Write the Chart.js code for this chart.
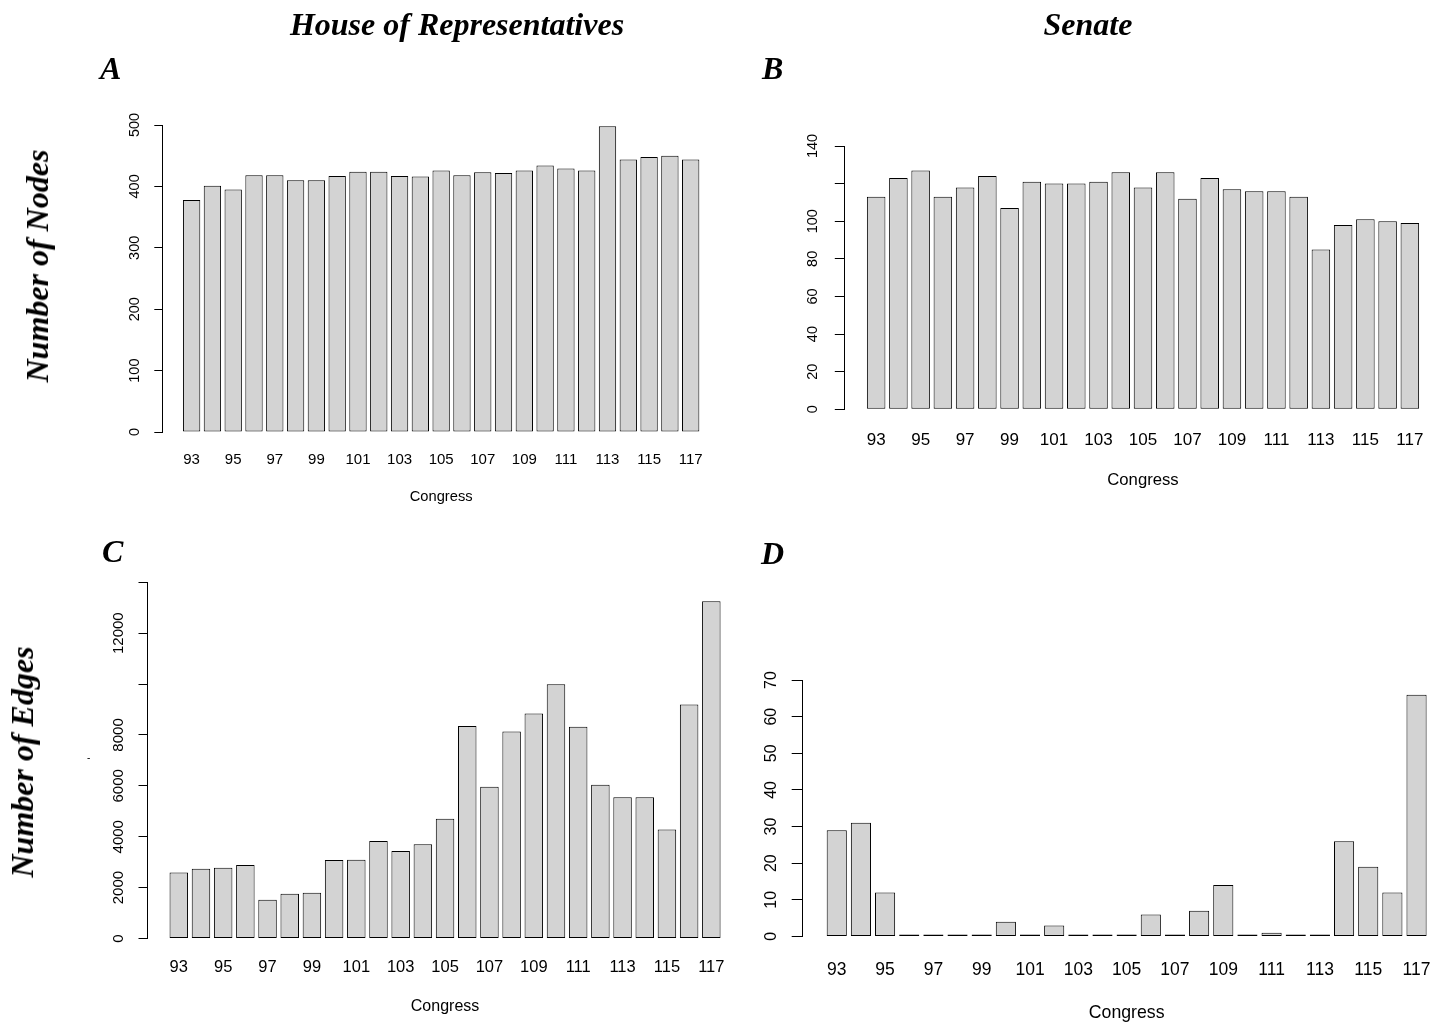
<!DOCTYPE html>
<html>
<head>
<meta charset="utf-8">
<script src="https://cdn.jsdelivr.net/npm/chart.js@4/dist/chart.umd.min.js"></script>
<style>
  html, body { margin: 0; padding: 0; background: #fff; overflow: hidden; width: 1448px; height: 1023px; }
  #fig { position: relative; width: 1448px; height: 1023px; overflow: hidden; background: #fff; }
  #fig canvas { position: absolute; left: 0; top: 0; }
  .hd {
    position: absolute; color: #000; white-space: nowrap;
    font-family: 'Liberation Serif', 'Times New Roman', serif;
    font-weight: bold; font-style: italic; font-size: 32px; line-height: 32px;
  }
  .stray { position: absolute; font: 10px 'Liberation Sans', Arial, sans-serif; line-height: 10px; color: #000; }
</style>
</head>
<body>
<div id="fig">
  <canvas id="panelA" width="1460" height="1023"></canvas>
  <canvas id="panelB" width="1460" height="1023"></canvas>
  <canvas id="panelC" width="1460" height="1023"></canvas>
  <canvas id="panelD" width="1460" height="1023"></canvas>

  <div class="hd" style="left:457px; top:8px; transform:translateX(-50%);">House of Representatives</div>
  <div class="hd" style="left:1088px; top:8px; transform:translateX(-50%);">Senate</div>
  <div class="hd" style="left:100px; top:52px;">A</div>
  <div class="hd" style="left:762px; top:52px;">B</div>
  <div class="hd" style="left:102px; top:535px;">C</div>
  <div class="hd" style="left:761px; top:537px;">D</div>
  <div class="hd" style="left:37px; top:266px; transform:translate(-50%,-50%) rotate(-90deg);">Number of Nodes</div>
  <div class="hd" style="left:22px; top:762px; transform:translate(-50%,-50%) rotate(-90deg);">Number of Edges</div>
  <div class="stray" style="left:87px; top:753px;">-</div>
</div>

<script>
// Congress numbers (93rd through 117th)
const congress = [93, 94, 95, 96, 97, 98, 99, 100, 101, 102, 103, 104, 105,
                  106, 107, 108, 109, 110, 111, 112, 113, 114, 115, 116, 117];
const congressTicks = [93, 95, 97, 99, 101, 103, 105, 107, 109, 111, 113, 115, 117];

// A: House, number of nodes
const houseNodes = [378, 401, 395, 418, 418, 410, 410, 417, 424, 424, 417, 416, 426,
                    418, 423, 422, 426, 434, 429, 426, 498, 444, 448, 450, 444];
// B: Senate, number of nodes
const senateNodes = [113, 123, 127, 113, 118, 124, 107, 121, 120, 120, 121, 126, 118,
                     126, 112, 123, 117, 116, 116, 113, 85, 98, 101, 100, 99];
// C: House, number of edges
const houseEdges = [2590, 2740, 2780, 2890, 1520, 1760, 1800, 3090, 3100, 3830, 3440, 3700, 4710,
                    8350, 5960, 8140, 8840, 9990, 8320, 6040, 5550, 5550, 4280, 9200, 13260];
// D: Senate, number of edges
const senateEdges = [29, 31, 12, 0, 0, 0, 0, 4, 0, 3, 0, 0, 0,
                     6, 0, 7, 14, 0, 1, 0, 0, 26, 19, 12, 66];

// y-axis tick values, and the ones whose labels are left blank
const houseNodeTicks = [0, 100, 200, 300, 400, 500];
const senateNodeTicks = [0, 20, 40, 60, 80, 100, 120, 140];
const houseEdgeTicks = [0, 2000, 4000, 6000, 8000, 10000, 12000, 14000];
const senateEdgeTicks = [0, 10, 20, 30, 40, 50, 60, 70];
const houseNodeBlank = [];
const senateNodeBlank = [120];
const houseEdgeBlank = [10000, 14000];
const senateEdgeBlank = [];

const CANVAS_W = 1460, CANVAS_H = 1023, Y_AXIS_W = 60;
const SANS = "'Liberation Sans', Arial, Helvetica, sans-serif";
// barplot-style x range: 0.2 spacing between unit-width bars plus 4% margins
const X_MIN = 91.59, X_MAX = 118.41;

function drawPanel(id, values, yTicks, blank, g) {
  const points = congress.map((c, i) => ({ x: c, y: values[i] }));
  new Chart(document.getElementById(id), {
    type: 'bar',
    data: {
      datasets: [{
        data: points,
        backgroundColor: '#d3d3d3',
        borderColor: '#000000',
        borderWidth: 1,
        borderSkipped: false,
        minBarLength: 2,
        categoryPercentage: 1,
        barPercentage: 1 / 1.2
      }]
    },
    options: {
      responsive: false,
      animation: false,
      devicePixelRatio: 1,
      events: [],
      layout: {
        padding: {
          left: g.L - Y_AXIS_W,
          right: CANVAS_W - g.R,
          top: g.T,
          bottom: CANVAS_H - g.B - g.xh
        }
      },
      plugins: { legend: { display: false }, tooltip: { enabled: false } },
      scales: {
        x: {
          type: 'linear',
          min: X_MIN,
          max: X_MAX,
          offset: false,
          grid: { display: false, drawTicks: false },
          border: { display: false },
          afterBuildTicks: s => { s.ticks = congressTicks.map(v => ({ value: v })); },
          afterFit: s => { s.height = g.xh; },
          ticks: {
            autoSkip: false, minRotation: 0, maxRotation: 0,
            padding: g.xPad, color: '#000',
            font: { family: SANS, size: g.xFont },
            callback: v => String(v)
          },
          title: {
            display: true, text: 'Congress', color: '#000', padding: 0,
            font: { family: SANS, size: g.titleFont }
          }
        },
        y: {
          min: 0,
          max: yTicks[yTicks.length - 1],
          afterBuildTicks: s => { s.ticks = yTicks.map(v => ({ value: v })); },
          afterFit: s => { s.width = Y_AXIS_W; },
          grid: { drawOnChartArea: false, drawTicks: true, tickLength: g.tickLen, color: '#000', lineWidth: 1 },
          border: { display: true, color: '#000', width: 1 },
          ticks: {
            autoSkip: false, minRotation: 90, maxRotation: 90, crossAlign: 'center',
            padding: g.yPad, color: '#000',
            font: { family: SANS, size: g.yFont },
            callback: v => (blank.includes(v) ? '' : String(v))
          }
        }
      }
    }
  });
}

drawPanel('panelA', houseNodes, houseNodeTicks, houseNodeBlank,
  { L: 162.3, R: 720.0, T: 125, B: 432, xh: 73.5, xPad: 19, xFont: 15, titleFont: 14.7, yFont: 14.5, yPad: 7.2, tickLen: 8 });
drawPanel('panelB', senateNodes, senateNodeTicks, senateNodeBlank,
  { L: 844.8, R: 1441.2, T: 146, B: 409.3, xh: 80.7, xPad: 21.2, xFont: 17, titleFont: 16.7, yFont: 14.5, yPad: 9.9, tickLen: 10 });
drawPanel('panelC', houseEdges, houseEdgeTicks, houseEdgeBlank,
  { L: 147.5, R: 742.6, T: 582.3, B: 938.5, xh: 77.8, xPad: 18.6, xFont: 16.5, titleFont: 16, yFont: 15, yPad: -1.65, tickLen: 9 });
drawPanel('panelD', senateEdges, senateEdgeTicks, senateEdgeBlank,
  { L: 802.7, R: 1450.6, T: 680, B: 936.4, xh: 87.2, xPad: 23.1, xFont: 17.5, titleFont: 17.7, yFont: 16, yPad: 11.1, tickLen: 11 });
</script>
</body>
</html>
